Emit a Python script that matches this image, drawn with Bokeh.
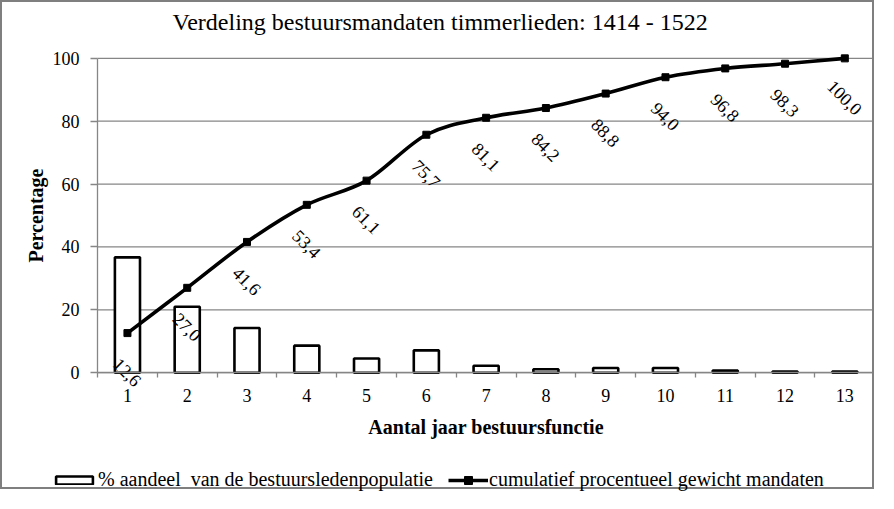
import math
from bokeh.plotting import figure
from bokeh.models import (ColumnDataSource, FixedTicker, Legend, LegendItem, Range1d, Title, Label)
from bokeh.core.properties import value
from bokeh.embed import file_html
from bokeh.resources import INLINE

# ---- data ----
years = list(range(1, 14))
tick_labels = [str(y) for y in years]
share = [36.7, 21.0, 14.2, 8.6, 4.5, 7.1, 2.2, 1.1, 1.5, 1.5, 0.7, 0.4, 0.4]
cumulative = [12.6, 27.0, 41.6, 53.4, 61.1, 75.7, 81.1, 84.2, 88.8, 94.0, 96.8, 98.3, 100.0]
y_ticks = [0, 20, 40, 60, 80, 100]
title_text = "Verdeling bestuursmandaten timmerlieden: 1414 - 1522"
x_title = "Aantal jaar bestuursfunctie"
y_title = "Percentage"
bar_name = "% aandeel  van de bestuursledenpopulatie"
line_name = "cumulatief procentueel gewicht mandaten"

FONT = "Liberation Serif"
GRID = "#868686"

x_lo = years[0] - 0.5
x_hi = years[-1] + 0.5
y_lo, y_hi = y_ticks[0], y_ticks[-1]

p = figure(width=874, height=489, output_backend="svg", toolbar_location=None,
           x_range=Range1d(-1.09, 13.53), y_range=Range1d(-37.8, 106.0),
           min_border_left=0, min_border_right=0, min_border_top=0, min_border_bottom=0,
           title=None)
p.styles = {"border": "2px solid #7f7f7f"}
p.outline_line_color = None
p.background_fill_color = "white"
p.border_fill_color = "white"
p.grid.visible = False

# title
t = Title(text=title_text, align="left", offset=170, text_font=FONT, text_font_size="24px",
          text_font_style="normal", text_color="black", standoff=9)
p.add_layout(t, "above")

# gridlines over the category span
p.segment(x0=[x_lo] * len(y_ticks), x1=[x_hi] * len(y_ticks), y0=y_ticks, y1=y_ticks,
          line_color=GRID, line_width=1.3)

# y axis
ya = p.yaxis[0]
ya.fixed_location = x_lo
ya.bounds = (y_lo, y_hi)
ya.ticker = FixedTicker(ticks=y_ticks)
ya.axis_line_color = GRID
ya.axis_line_width = 1.3
ya.major_tick_line_color = GRID
ya.major_tick_line_width = 1.3
ya.major_tick_in = 0
ya.major_tick_out = 7
ya.minor_tick_line_color = None
ya.major_label_text_font = FONT
ya.major_label_text_font_size = "18px"
ya.major_label_text_color = "black"
ya.major_label_standoff = 11
ya.axis_label = None

# x axis
xa = p.xaxis[0]
xa.fixed_location = y_lo
xa.bounds = (x_lo, x_hi)
xa.ticker = FixedTicker(ticks=years, minor_ticks=[y - 0.5 for y in years] + [x_hi])
xa.major_label_overrides = {y: lab for y, lab in zip(years, tick_labels)}
xa.axis_line_color = GRID
xa.axis_line_width = 1.3
xa.major_tick_line_color = None
xa.major_tick_in = 0
xa.major_tick_out = 5
xa.minor_tick_line_color = GRID
xa.minor_tick_line_width = 1.3
xa.minor_tick_in = 0
xa.minor_tick_out = 5
xa.major_label_text_font = FONT
xa.major_label_text_font_size = "18px"
xa.major_label_text_color = "black"
xa.major_label_standoff = 11
xa.axis_label = None

# axis titles
p.add_layout(Label(x=x_lo, y=(y_lo + y_hi) / 2, x_offset=-62, text=y_title, angle=math.pi / 2,
                   text_align="center", text_baseline="middle", text_font=FONT,
                   text_font_size="20px", text_font_style="bold", text_color="black"))
p.add_layout(Label(x=(years[0] + years[-1]) / 2, y=y_lo, y_offset=-54, text=x_title,
                   text_align="center", text_baseline="middle", text_font=FONT,
                   text_font_size="20px", text_font_style="bold", text_color="black"))

# bars
bar_src = ColumnDataSource(dict(x=years, top=share))
bars = p.vbar(x="x", top="top", width=0.42, bottom=0, source=bar_src,
              fill_color="white", line_color="black", line_width=2.6)

# smoothed cumulative line (Catmull-Rom style Bezier segments through the data points)
n = len(years)
k = 1.0 / 6.0
seg = dict(x0=[], y0=[], x1=[], y1=[], cx0=[], cy0=[], cx1=[], cy1=[])
for i in range(n - 1):
    xp, yp = (years[i - 1], cumulative[i - 1]) if i > 0 else (years[i], cumulative[i])
    xn, yn = (years[i + 2], cumulative[i + 2]) if i + 2 < n else (years[i + 1], cumulative[i + 1])
    seg["x0"].append(years[i]); seg["y0"].append(cumulative[i])
    seg["x1"].append(years[i + 1]); seg["y1"].append(cumulative[i + 1])
    seg["cx0"].append(years[i] + (years[i + 1] - xp) * k)
    seg["cy0"].append(cumulative[i] + (cumulative[i + 1] - yp) * k)
    seg["cx1"].append(years[i + 1] - (xn - years[i]) * k)
    seg["cy1"].append(cumulative[i + 1] - (yn - cumulative[i]) * k)
p.bezier(x0="x0", y0="y0", x1="x1", y1="y1", cx0="cx0", cy0="cy0", cx1="cx1", cy1="cy1",
         source=ColumnDataSource(seg), line_color="black", line_width=3.6)

line_src = ColumnDataSource(dict(x=years, y=cumulative,
                                 lab=[f"{v:.1f}".replace(".", ",") for v in cumulative]))
pts = p.scatter(x="x", y="y", source=line_src, marker="square", size=7,
                fill_color="black", line_color="black")

p.text(x="x", y="y", text="lab", source=line_src, angle=-math.pi / 4, y_offset=39,
       text_align="center", text_baseline="middle", text_font=value(FONT),
       text_font_size="18px", text_color="black")

# legend proxy for the line (one undrawn point, so the legend can sample its style)
leg_line = p.line(x=[float("nan")], y=[float("nan")], line_color="black", line_width=3.6)

common = dict(orientation="horizontal", padding=0, margin=0, spacing=0,
              border_line_color=None, background_fill_alpha=0, label_text_font=FONT,
              label_text_font_size="20px", label_text_color="black")
lg1 = Legend(items=[LegendItem(label=bar_name, renderers=[bars])], location=(49, 0),
             glyph_width=46, glyph_height=10, label_height=10, label_standoff=1, **common)
lg2 = Legend(items=[LegendItem(label=line_name, renderers=[leg_line, pts])], location=(446, 0),
             glyph_width=40, glyph_height=20, label_height=20, label_standoff=1, **common)
p.add_layout(lg1, "center")
p.add_layout(lg2, "center")

open("out.html", "w").write(file_html(p, INLINE))
